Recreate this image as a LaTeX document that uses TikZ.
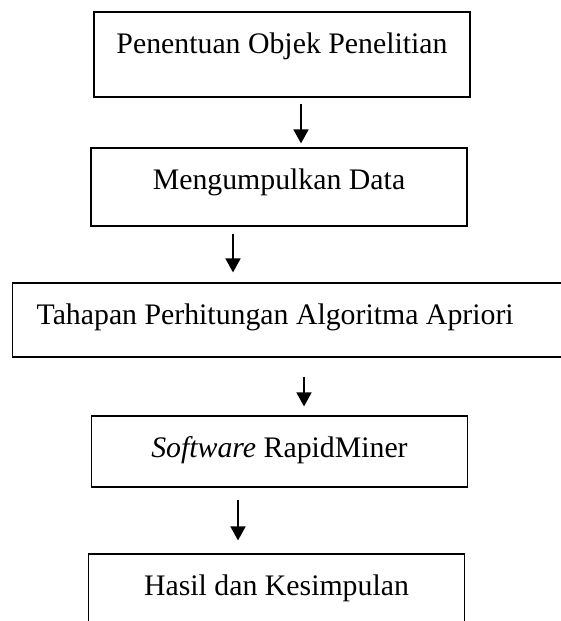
\documentclass[tikz,border=0pt]{standalone}
\usepackage{fontspec}
\setmainfont{Liberation Serif}
\usetikzlibrary{arrows.meta}

\tikzset{
stepbox/.style={draw=black, line width=1.2pt, inner sep=0pt, minimum width=376pt, text height=41pt, anchor=base, font=\fontsize{29.8}{34}\selectfont},
flow/.style={-{Triangle[width=15pt,length=14pt]}, line width=1.8pt}
}

\begin{document}
\begin{tikzpicture}[x=1pt,y=-1pt]
\clip (0,0) rectangle (561,621);

\node[stepbox, text depth=44pt](objek) at (282,53) {Penentuan Objek Penelitian};
\node[stepbox, text depth=37pt](data) at (279,189) {Mengumpulkan Data};
\node[stepbox, text depth=33pt, anchor=base west, text width=539pt, inner xsep=24pt, align=flush left](apriori) at (12,324) {Tahapan Perhitungan Algoritma Apriori};
\node[stepbox, text depth=30pt](rapid) at (279.5,457) {\textit{Software} RapidMiner};
\node[stepbox, text depth=45pt](hasil) at (276.5,595) {Hasil dan Kesimpulan};

\path[flow] ([xshift=19pt]objek.south) edge[shorten <=6pt, shorten >=4pt] ([xshift=19pt]objek.south |- data.north);
\path[flow] ([xshift=-46pt]data.south) edge[shorten <=7pt, shorten >=10pt] ([xshift=-46pt]data.south |- apriori.north);
\path[flow] ([xshift=24.5pt]rapid.north |- apriori.south) edge[shorten <=19pt, shorten >=9pt] ([xshift=24.5pt]rapid.north);
\path[flow] ([xshift=-41.5pt]rapid.south) edge[shorten <=12pt, shorten >=13pt] ([xshift=-41.5pt]rapid.south |- hasil.north);
\end{tikzpicture}
\end{document}
